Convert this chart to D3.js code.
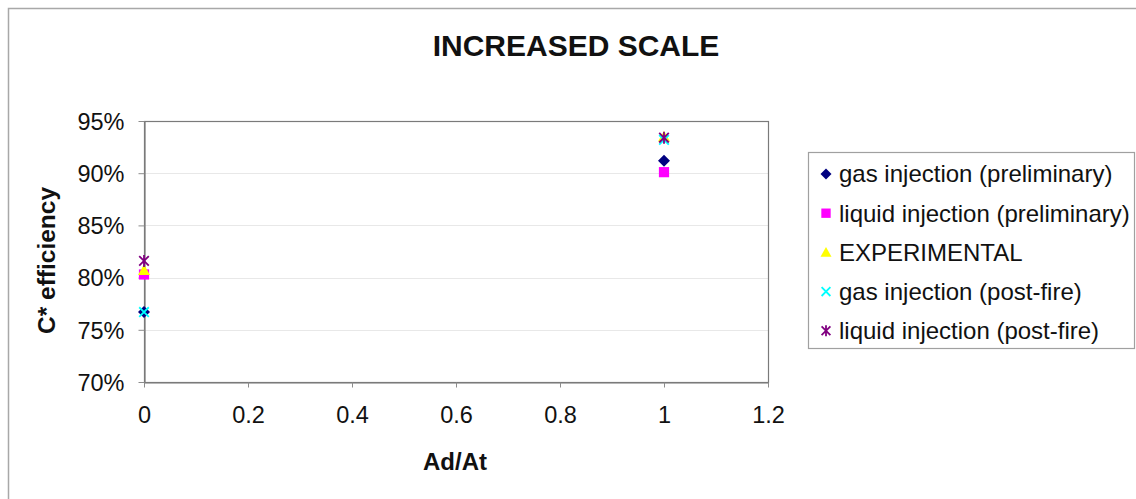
<!DOCTYPE html>
<html>
<head>
<meta charset="utf-8">
<script src="https://cdn.jsdelivr.net/npm/d3@7"></script>
<style>
  html, body { margin: 0; padding: 0; background: #fff; }
  svg { display: block; font-family: "Liberation Sans", Arial, sans-serif; }
</style>
</head>
<body>
<svg id="chart" width="1136" height="499"></svg>
<script>
// C* efficiency versus area ratio, five series
const seriesNames = [
  "gas injection (preliminary)",
  "liquid injection (preliminary)",
  "EXPERIMENTAL",
  "gas injection (post-fire)",
  "liquid injection (post-fire)"
];
const xValues = [0, 1];
const gasPrelim = [0.767, 0.912];
const liquidPrelim = [0.803, 0.901];
const experimental = [0.807, 0.935];
const gasPost = [0.767, 0.932];
const liquidPost = [0.816, 0.934];
const xTicks = [0, 0.2, 0.4, 0.6, 0.8, 1, 1.2];
const yTicks = [0.70, 0.75, 0.80, 0.85, 0.90, 0.95];

const seriesValues = [gasPrelim, liquidPrelim, experimental, gasPost, liquidPost];
const colors = ["#000080", "#FF00FF", "#FFFF00", "#00FFFF", "#800080"];
const shapes = ["diamond", "square", "triangle", "cross", "asterisk"];

const svg = d3.select("#chart");
const FONT = "'Liberation Sans', Arial, sans-serif";

// Outer chart frame (left and top edges visible)
svg.append("path")
  .attr("d", "M8.5,499 L8.5,8.5 L1136,8.5")
  .attr("fill", "none").attr("stroke", "#a8a8a8").attr("stroke-width", 1.5);

const plot = { left: 144, right: 768, top: 121, bottom: 382 };
const x = d3.scaleLinear().domain([0, 1.2]).range([plot.left, plot.right]);
const y = d3.scaleLinear().domain([0.70, 0.95]).range([plot.bottom, plot.top]);

// Gridlines
svg.append("g").selectAll("line").data(yTicks.slice(1, -1)).join("line")
  .attr("x1", plot.left).attr("x2", plot.right)
  .attr("y1", d => Math.round(y(d)) + 0.5).attr("y2", d => Math.round(y(d)) + 0.5)
  .attr("stroke", "#e8e8e8").attr("stroke-width", 1);

// Plot frame
svg.append("rect")
  .attr("x", plot.left + 0.5).attr("y", plot.top + 0.5)
  .attr("width", plot.right - plot.left).attr("height", plot.bottom - plot.top)
  .attr("fill", "none").attr("stroke", "#7a7a7a").attr("stroke-width", 1.2);

// Axes
const yAxis = d3.axisLeft(y).tickValues(yTicks).tickFormat(d3.format(".0%"))
  .tickSizeInner(6).tickSizeOuter(0).tickPadding(14);
const gy = svg.append("g").attr("transform", `translate(${plot.left + 0.5},0)`).call(yAxis);
const xAxis = d3.axisBottom(x).tickValues(xTicks).tickFormat(d => d3.format("")(+d.toFixed(1)))
  .tickSizeInner(5).tickSizeOuter(0).tickPadding(19);
const gx = svg.append("g").attr("transform", `translate(0,${plot.bottom + 0.5})`).call(xAxis);
[gx, gy].forEach(g => {
  g.select(".domain").attr("stroke", "#7a7a7a").attr("stroke-width", 1.2);
  g.selectAll(".tick line").attr("stroke", "#8c8c8c");
  g.selectAll(".tick text").attr("fill", "#111").style("font-size", "23.5px")
    .style("font-family", FONT);
});
gy.selectAll(".tick text").attr("dy", "0.35em");

// Titles
svg.append("text").attr("x", 576).attr("y", 56).attr("text-anchor", "middle")
  .style("font-size", "30px").style("font-weight", "bold").attr("fill", "#111")
  .style("font-family", FONT)
  .text("INCREASED SCALE");
svg.append("text").attr("x", (plot.left + plot.right) / 2 - 1).attr("y", 470).attr("text-anchor", "middle")
  .style("font-size", "24px").style("font-weight", "bold").attr("fill", "#111")
  .style("font-family", FONT)
  .text("Ad/At");
svg.append("text")
  .attr("transform", `translate(55,${(plot.top + plot.bottom) / 2 + 9}) rotate(-90)`)
  .attr("text-anchor", "middle")
  .style("font-size", "24.5px").style("font-weight", "bold").attr("fill", "#111")
  .style("font-family", FONT)
  .text("C* efficiency");

// Marker drawing
function drawMarker(g, shape, color, s) {
  const h = s / 2;
  if (shape === "diamond") {
    g.append("path").attr("d", `M0,${-h} L${h},0 L0,${h} L${-h},0 Z`).attr("fill", color);
  } else if (shape === "square") {
    g.append("rect").attr("x", -h * 0.85).attr("y", -h * 0.85)
      .attr("width", s * 0.85).attr("height", s * 0.85).attr("fill", color);
  } else if (shape === "triangle") {
    g.append("path").attr("d", `M0,${-h} L${h},${h * 0.8} L${-h},${h * 0.8} Z`).attr("fill", color);
  } else if (shape === "cross") {
    const a = h * 0.8;
    g.append("path").attr("d", `M${-a},${-a} L${a},${a} M${a},${-a} L${-a},${a}`)
      .attr("stroke", color).attr("stroke-width", 1.8).attr("fill", "none");
  } else if (shape === "asterisk") {
    const a = h * 0.8;
    g.append("path").attr("d", `M${-a},${-a} L${a},${a} M${a},${-a} L${-a},${a} M0,${-h} L0,${h}`)
      .attr("stroke", color).attr("stroke-width", 1.8).attr("fill", "none");
  }
}

// Data points
seriesValues.forEach((vals, i) => {
  const g = svg.append("g");
  vals.forEach((v, j) => {
    const m = g.append("g").attr("transform", `translate(${x(xValues[j])},${y(v)})`);
    drawMarker(m, shapes[i], colors[i], 12);
  });
});

// Legend
const legend = svg.append("g");
legend.append("rect").attr("x", 808.5).attr("y", 152.5).attr("width", 326).attr("height", 196)
  .attr("fill", "#fff").attr("stroke", "#a0a0a0").attr("stroke-width", 1.2);
seriesNames.forEach((name, i) => {
  const cy = 174 + i * 39.2;
  const m = legend.append("g").attr("transform", `translate(826,${cy})`);
  drawMarker(m, shapes[i], colors[i], 11);
  legend.append("text").attr("x", 839).attr("y", cy).attr("dy", "0.35em")
    .style("font-size", "24px").attr("fill", "#111").style("font-family", FONT).text(name);
});
</script>
</body>
</html>
